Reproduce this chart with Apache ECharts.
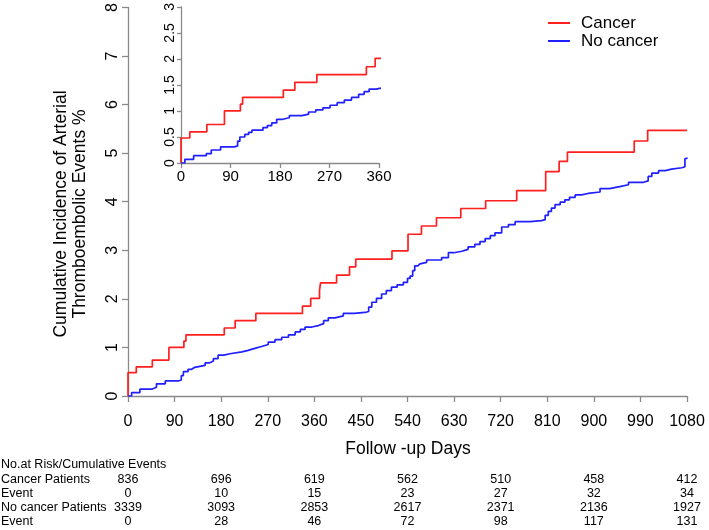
<!DOCTYPE html>
<html>
<head>
<meta charset="utf-8">
<script src="https://cdn.jsdelivr.net/npm/echarts@6/dist/echarts.min.js"></script>
<style>
html,body{margin:0;padding:0;background:#fff;}
#chart{width:709px;height:530px;}
</style>
</head>
<body>
<div id="chart"></div>
<script>
// ---- data ----
var seriesNames = ['Cancer', 'No cancer'];
var xTicksMain = [0, 90, 180, 270, 360, 450, 540, 630, 720, 810, 900, 990, 1080];
var xTicksInset = [0, 90, 180, 270, 360];
var cancerCurve = [
  [0,0],[0,0.48],[16,0.60],[47,0.74],[79,1.00],[108,1.13],[112,1.26],[186,1.40],
  [207,1.55],[247,1.70],[337,1.85],[353,2.01],[370,2.17],[372,2.33],[403,2.49],
  [428,2.66],[440,2.82],[510,2.99],[541,3.33],[567,3.50],[596,3.67],[643,3.86],
  [691,4.02],[751,4.23],[807,4.62],[833,4.83],[849,5.02],[978,5.25],[1004,5.47],[1080,5.47]
];
var noCancerCurve = [
  [0,0],[7,0.07],[23,0.14],[46,0.18],[55,0.25],[72,0.31],[97,0.33],[103,0.42],[107,0.50],
  [116,0.55],[123,0.59],[129,0.63],[149,0.68],[157,0.72],[165,0.77],[174,0.84],[185,0.87],
  [197,0.91],[220,0.94],[232,0.98],[245,1.02],[258,1.06],[271,1.11],[284,1.16],[297,1.21],
  [310,1.26],[323,1.32],[333,1.37],[342,1.42],[355,1.45],[368,1.49],[378,1.55],[387,1.61],
  [400,1.65],[416,1.70],[437,1.72],[458,1.74],[465,1.83],[471,1.93],[480,2.01],[490,2.10],
  [499,2.17],[509,2.24],[520,2.29],[532,2.34],[540,2.42],[545,2.47],[550,2.58],[554,2.68],
  [560,2.72],[564,2.75],[577,2.80],[606,2.85],[619,2.95],[630,2.98],[645,3.02],[657,3.07],
  [670,3.12],[680,3.18],[690,3.24],[700,3.30],[709,3.36],[722,3.48],[735,3.53],[748,3.59],
  [777,3.61],[799,3.63],[806,3.72],[812,3.80],[818,3.87],[825,3.94],[835,3.99],[844,4.04],
  [853,4.09],[864,4.14],[876,4.17],[889,4.20],[912,4.27],[930,4.31],[950,4.35],[967,4.40],
  [996,4.43],[1005,4.52],[1012,4.59],[1025,4.64],[1038,4.67],[1050,4.70],[1070,4.72],
  [1076,4.89],[1080,4.91]
];
var riskDays = [0, 180, 360, 540, 720, 900, 1080];
var tableTitle = 'No.at Risk/Cumulative Events';
var rowLabels = ['Cancer Patients', 'Event', 'No cancer Patients', 'Event'];
var cancerAtRisk = [836, 696, 619, 562, 510, 458, 412];
var cancerEvents = [0, 10, 15, 23, 27, 32, 34];
var noCancerAtRisk = [3339, 3093, 2853, 2617, 2371, 2136, 1927];
var noCancerEvents = [0, 28, 46, 72, 98, 117, 131];
var xTitle = 'Follow -up Days';
var yTitle = 'Cumulative Incidence of Arterial\nThromboembolic Events %';

// ---- chart ----
var FONT = '"Liberation Sans", Arial, Helvetica, sans-serif';
var RED = '#ff1f1f', BLUE = '#1f1fff', AXIS = '#8a8a8a';
var chart = echarts.init(document.getElementById('chart'), null, {renderer: 'canvas'});
function plain(v) { return String(v); }

function axisCommon(fs, margin, rotate) {
  return {
    axisLine: {show: true, onZero: false, lineStyle: {color: AXIS, width: 1.3}},
    axisTick: {show: true, inside: false, length: 6, lineStyle: {color: AXIS, width: 1.3}},
    axisLabel: {color: '#000', fontFamily: FONT, fontSize: fs, margin: margin, rotate: rotate || 0, formatter: plain},
    splitLine: {show: false}
  };
}

var xMain = Object.assign({type: 'value', gridIndex: 0, min: 0, max: 1080, interval: 90}, axisCommon(16, 18));
var yMain = Object.assign({type: 'value', gridIndex: 0, min: 0, max: 8, interval: 1}, axisCommon(16, 7, 90));
var xIn = Object.assign({type: 'value', gridIndex: 1, min: 0, max: 360, interval: 90}, axisCommon(15, 6));
xIn.axisTick.length = 5;
var yIn = Object.assign({type: 'value', gridIndex: 1, min: 0, max: 3, interval: 0.5}, axisCommon(14, 4, 90));
yIn.axisTick.length = 4;

function lineSeries(name, data, color, idx) {
  return {
    type: 'line', name: name, data: data, step: 'end', showSymbol: false, symbol: 'none',
    xAxisIndex: idx, yAxisIndex: idx, clip: true,
    lineStyle: {color: color, width: 1.7}, itemStyle: {color: color}
  };
}

var option = {
  animation: false,
  backgroundColor: '#fff',
  grid: [
    {left: 128, right: 22, top: 5, bottom: 134},
    {left: 181, width: 198, top: 6, height: 157}
  ],
  xAxis: [xMain, xIn],
  yAxis: [yMain, yIn],
  legend: {
    data: seriesNames,
    orient: 'vertical',
    left: 543, top: 9,
    itemWidth: 22, itemHeight: 2, itemGap: 0,
    icon: 'rect',
    textStyle: {fontFamily: FONT, fontSize: 17, color: '#000', lineHeight: 18, padding: [0, 0, 0, 6]}
  },
  series: [
    lineSeries(seriesNames[0], cancerCurve, RED, 0),
    lineSeries(seriesNames[1], noCancerCurve, BLUE, 0),
    lineSeries(seriesNames[0], cancerCurve, RED, 1),
    lineSeries(seriesNames[1], noCancerCurve, BLUE, 1)
  ]
};
chart.setOption(option);

// ---- titles and risk table as text ----
var g = [];
g.push({type: 'text', x: 71, y: 214, rotation: Math.PI / 2,
  style: {text: yTitle, font: '17.5px ' + FONT, fill: '#000', align: 'center', verticalAlign: 'middle', lineHeight: 19}});
g.push({type: 'text', x: 408, y: 449,
  style: {text: xTitle, font: '17.5px ' + FONT, fill: '#000', align: 'center', verticalAlign: 'middle'}});
var rowY = [465, 480, 494, 508, 522];
var tFont = '12.5px ' + FONT;
g.push({type: 'text', x: 1, y: rowY[0], style: {text: tableTitle, font: tFont, fill: '#000', align: 'left', verticalAlign: 'middle'}});
rowLabels.forEach(function (lab, i) {
  g.push({type: 'text', x: 1, y: rowY[i + 1], style: {text: lab, font: tFont, fill: '#000', align: 'left', verticalAlign: 'middle'}});
});
var rows = [cancerAtRisk, cancerEvents, noCancerAtRisk, noCancerEvents];
riskDays.forEach(function (d, j) {
  var px = chart.convertToPixel({xAxisIndex: 0}, d);
  rows.forEach(function (arr, i) {
    g.push({type: 'text', x: px, y: rowY[i + 1],
      style: {text: String(arr[j]), font: tFont, fill: '#000', align: 'center', verticalAlign: 'middle'}});
  });
});
chart.setOption({graphic: g});
</script>
</body>
</html>
